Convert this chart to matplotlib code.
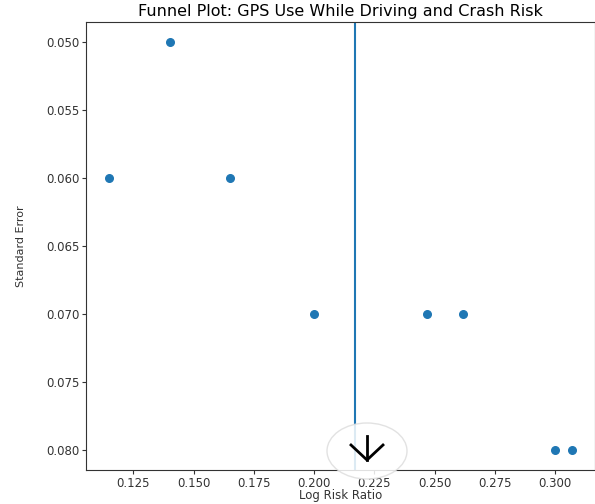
import matplotlib
matplotlib.use("Agg")
import matplotlib.pyplot as plt
from matplotlib.patches import Ellipse
import numpy as np

# study estimates
log_rr = [0.140, 0.115, 0.165, 0.200, 0.247, 0.262, 0.300, 0.307]
std_err = [0.050, 0.060, 0.060, 0.070, 0.070, 0.070, 0.080, 0.080]
y_ticks = [0.050, 0.055, 0.060, 0.065, 0.070, 0.075, 0.080]

fig = plt.figure(figsize=(5.95, 5.04), dpi=100)
ax = fig.add_axes([0.145, 0.0675, 0.855, 0.889])

ax.scatter(log_rr, std_err, s=30, color="#1f77b4", zorder=3)
ax.axvline(np.mean(log_rr), color="#1f77b4", linewidth=1.5)

ax.set_yticks(y_ticks)
ax.set_yticklabels([f"{t:.3f}" for t in y_ticks])
ax.invert_yaxis()
ax.tick_params(labelsize=8.5, colors="#333333", length=3, pad=2)
for s in ax.spines.values():
    s.set_color("#333333")

ax.set_title("Funnel Plot: GPS Use While Driving and Crash Risk", fontsize=11.5, pad=4)
ax.set_xlabel("Log Risk Ratio", fontsize=8.5, color="#333333", va="center")
ax.xaxis.set_label_coords(0.5, -0.057)
ax.set_ylabel("Standard Error", fontsize=8, color="#333333", va="center")
ax.yaxis.set_label_coords(-0.128, 0.5)

# scroll-down button overlay seen in the screenshot
W, H = 595, 504
cx, cy = 367, 451
circ = Ellipse((cx / W, 1 - cy / H), 80 / W, 56 / H, transform=fig.transFigure,
               facecolor="white", edgecolor="#dddddd", linewidth=1, alpha=0.85, zorder=10)
fig.add_artist(circ)
fig.add_artist(plt.Line2D([cx / W, cx / W], [1 - 436 / H, 1 - 460 / H],
                          transform=fig.transFigure, color="black", linewidth=2, zorder=11))
fig.add_artist(plt.Line2D([351 / W, cx / W, 383 / W], [1 - 445 / H, 1 - 460 / H, 1 - 445 / H],
                          transform=fig.transFigure, color="black", linewidth=2, zorder=11))

fig.savefig("out.png", dpi=100)
